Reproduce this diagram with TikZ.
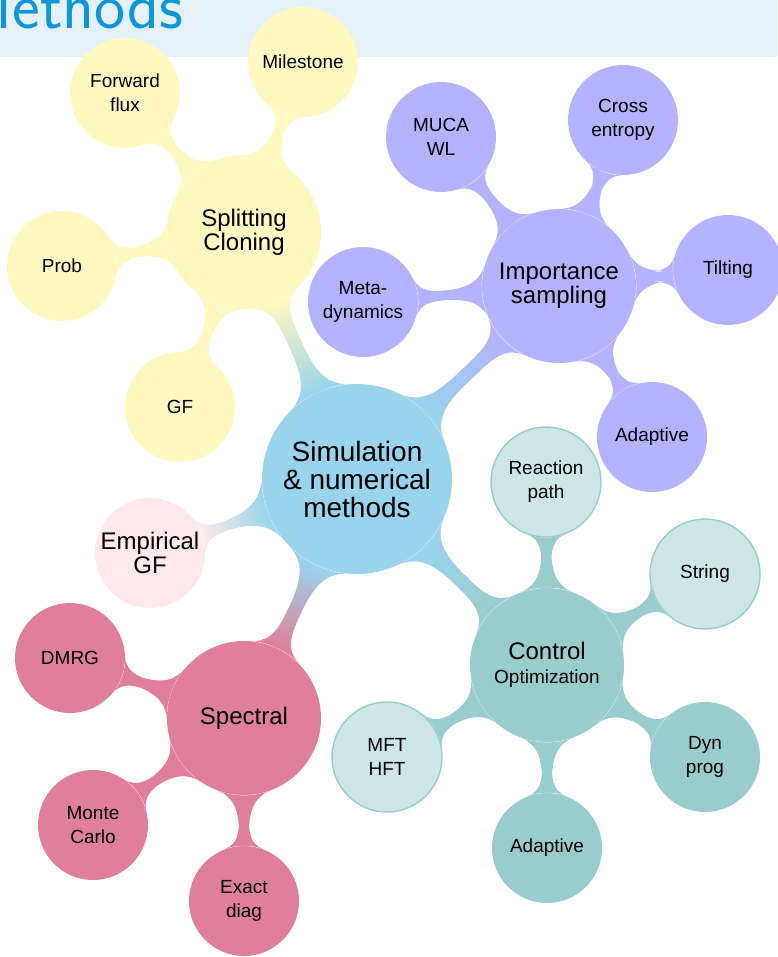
\documentclass[tikz,border=0pt]{standalone}
\usepackage{fontspec}
\setmainfont{Liberation Sans}
\usetikzlibrary{mindmap,backgrounds}

\definecolor{bandblue}{RGB}{228,241,248}
\definecolor{titleblue}{RGB}{14,150,214}
\definecolor{rootblue}{RGB}{153,212,236}
\definecolor{splityel}{RGB}{255,248,192}
\definecolor{imppurp}{RGB}{179,179,255}
\definecolor{ctrlteal}{RGB}{153,204,204}
\definecolor{ctrllight}{RGB}{204,229,229}
\definecolor{specpink}{RGB}{224,127,155}
\definecolor{emppink}{RGB}{255,233,236}

\begin{document}
\begin{tikzpicture}
[x=0.5pt, y=0.5pt, font=\fontsize{9.5}{12}\selectfont]

\tikzstyle{topic}=[circle, inner sep=0pt, align=center, minimum size=95pt, font=\fontsize{14}{14}\selectfont]
\tikzstyle{branch}=[circle, inner sep=0pt, align=center, minimum size=77pt, font=\fontsize{12}{12}\selectfont]
\tikzstyle{leaf}=[circle, inner sep=0pt, align=center, minimum size=55pt]
\tikzstyle{outline}=[draw=ctrlteal, line width=0.7pt]
\tikzstyle{trunk}=[line width=6pt]
\tikzstyle{twig}=[line width=4.5pt]

\useasboundingbox (0,0) rectangle (777,-957);
\fill[bandblue] (0,0) rectangle (777,-57);
\node[anchor=base west, inner sep=0pt, text=titleblue, font=\fontsize{33}{33}\selectfont\sffamily] (title) at (-42,-29) {Methods};

\node[topic, fill=rootblue]	(sim)	at (357,-479)	{Simulation\\ \& numerical\\ methods};

\node[branch, fill=splityel]	(split)	at (244,-232)	{Splitting\\ Cloning};
\node[branch, fill=imppurp]	(imp)	at (559,-286)	{Importance\\ sampling};
\node[branch, fill=ctrlteal]	(ctrl)	at (547,-665)	{Control\\ {\fontsize{9.5}{12}\selectfont Optimization}};
\node[branch, fill=specpink]	(spec)	at (244,-718)	{Spectral};
\node[leaf, fill=emppink, font=\fontsize{12}{12}\selectfont]	(emp)	at (150,-553)	{Empirical\\ GF};

\node[leaf, fill=splityel]	(ffs)	at (125,-93)	{Forward\\ flux};
\node[leaf, fill=splityel]	(mile)	at (303,-62)	{Milestone};
\node[leaf, fill=splityel]	(prob)	at (62,-266)	{Prob};
\node[leaf, fill=splityel]	(sgf)	at (180,-407)	{GF};

\node[leaf, fill=imppurp]	(muca)	at (441,-137)	{MUCA\\ WL};
\node[leaf, fill=imppurp]	(cross)	at (623,-120)	{Cross\\ entropy};
\node[leaf, fill=imppurp]	(tilt)	at (728,-270)	{Tilting};
\node[leaf, fill=imppurp]	(iada)	at (652,-437)	{Adaptive};
\node[leaf, fill=imppurp]	(meta)	at (363,-302)	{Meta-\\ dynamics};

\node[leaf, fill=ctrllight, outline]	(react)	at (546,-482)	{Reaction\\ path};
\node[leaf, fill=ctrllight, outline]	(string)	at (705,-574)	{String};
\node[leaf, fill=ctrlteal]	(dyn)	at (705,-757)	{Dyn\\ prog};
\node[leaf, fill=ctrlteal]	(cada)	at (547,-848)	{Adaptive};
\node[leaf, fill=ctrllight, outline]	(mft)	at (387,-757)	{MFT\\ HFT};

\node[leaf, fill=specpink]	(dmrg)	at (70,-658)	{DMRG};
\node[leaf, fill=specpink]	(monte)	at (93,-825)	{Monte\\ Carlo};
\node[leaf, fill=specpink]	(exact)	at (244,-901)	{Exact\\ diag};

\begin{scope}[on background layer]
\path[trunk] (sim) to[circle connection bar switch color=from (rootblue) to (splityel)] (split);
\path[trunk] (sim) to[circle connection bar switch color=from (rootblue) to (imppurp)] (imp);
\path[trunk] (sim) to[circle connection bar switch color=from (rootblue) to (ctrlteal)] (ctrl);
\path[trunk] (sim) to[circle connection bar switch color=from (rootblue) to (specpink)] (spec);
\path[twig] (sim) to[circle connection bar switch color=from (rootblue) to (emppink)] (emp);

\path[twig] (split) to[circle connection bar switch color=from (splityel) to (splityel)] (ffs);
\path[twig] (split) to[circle connection bar switch color=from (splityel) to (splityel)] (mile);
\path[twig] (split) to[circle connection bar switch color=from (splityel) to (splityel)] (prob);
\path[twig] (split) to[circle connection bar switch color=from (splityel) to (splityel)] (sgf);

\path[twig] (imp) to[circle connection bar switch color=from (imppurp) to (imppurp)] (muca);
\path[twig] (imp) to[circle connection bar switch color=from (imppurp) to (imppurp)] (cross);
\path[twig] (imp) to[circle connection bar switch color=from (imppurp) to (imppurp)] (tilt);
\path[twig] (imp) to[circle connection bar switch color=from (imppurp) to (imppurp)] (iada);
\path[twig] (imp) to[circle connection bar switch color=from (imppurp) to (imppurp)] (meta);

\path[twig] (ctrl) to[circle connection bar switch color=from (ctrlteal) to (ctrlteal)] (react);
\path[twig] (ctrl) to[circle connection bar switch color=from (ctrlteal) to (ctrlteal)] (string);
\path[twig] (ctrl) to[circle connection bar switch color=from (ctrlteal) to (ctrlteal)] (dyn);
\path[twig] (ctrl) to[circle connection bar switch color=from (ctrlteal) to (ctrlteal)] (cada);
\path[twig] (ctrl) to[circle connection bar switch color=from (ctrlteal) to (ctrlteal)] (mft);

\path[twig] (spec) to[circle connection bar switch color=from (specpink) to (specpink)] (dmrg);
\path[twig] (spec) to[circle connection bar switch color=from (specpink) to (specpink)] (monte);
\path[twig] (spec) to[circle connection bar switch color=from (specpink) to (specpink)] (exact);
\end{scope}
\end{tikzpicture}
\end{document}
